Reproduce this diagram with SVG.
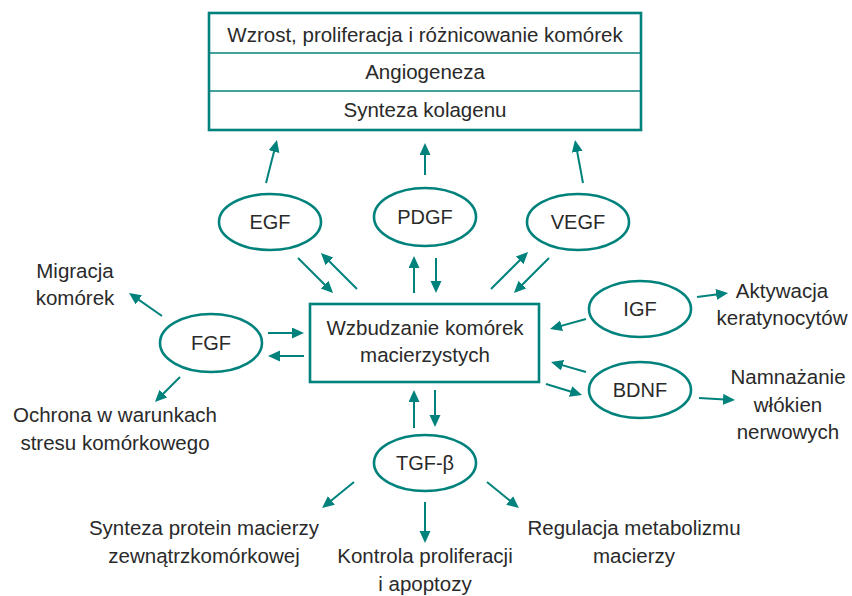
<svg xmlns="http://www.w3.org/2000/svg" width="852" height="596" viewBox="0 0 852 596">
<defs>
<style>
.t{font-family:"Liberation Sans",Arial,sans-serif;font-size:20.5px;fill:#2a2a2a;text-anchor:middle}
.n{font-family:"Liberation Sans",Arial,sans-serif;font-size:20px;fill:#2a2a2a;text-anchor:middle}
.el{fill:#fff;stroke:#00827c;stroke-width:2.6}
.bx{fill:#fff;stroke:#00827c;stroke-width:2.6}
.dv{stroke:#00827c;stroke-width:1.5}
.ar{stroke:#00827c;stroke-width:2;fill:none;marker-end:url(#ah)}
</style>
<marker id="ah" markerUnits="userSpaceOnUse" markerWidth="13" markerHeight="12" refX="6" refY="5.5" orient="auto">
<path d="M0,0 L12,5.5 L0,11 z" fill="#00827c"/>
</marker>
</defs>
<rect width="852" height="596" fill="#fff"/>

<g id="outcomes">
<rect class="bx" x="209" y="13" width="432" height="117"/>
<line class="dv" x1="209" y1="53" x2="641" y2="53"/>
<line class="dv" x1="209" y1="91" x2="641" y2="91"/>
<text class="t" x="425" y="42">Wzrost, proliferacja i różnicowanie komórek</text>
<text class="t" x="425" y="79">Angiogeneza</text>
<text class="t" x="425" y="117">Synteza kolagenu</text>
</g>

<g id="stem">
<rect class="bx" x="310" y="304" width="229" height="78"/>
<text class="t" x="425" y="335">Wzbudzanie komórek</text>
<text class="t" x="425" y="362">macierzystych</text>
</g>

<g id="egf"><ellipse class="el" cx="270" cy="222" rx="51" ry="28"/><text class="n" x="270" y="229">EGF</text></g>
<g id="pdgf"><ellipse class="el" cx="425" cy="217" rx="51" ry="29"/><text class="n" x="425" y="224">PDGF</text></g>
<g id="vegf"><ellipse class="el" cx="578" cy="222" rx="51" ry="28"/><text class="n" x="578" y="229">VEGF</text></g>
<g id="fgf"><ellipse class="el" cx="211" cy="343" rx="51" ry="29"/><text class="n" x="211" y="350">FGF</text></g>
<g id="igf"><ellipse class="el" cx="640" cy="309" rx="51" ry="28"/><text class="n" x="640" y="316">IGF</text></g>
<g id="bdnf"><ellipse class="el" cx="640" cy="390" rx="51" ry="28"/><text class="n" x="640" y="397">BDNF</text></g>
<g id="tgfb"><ellipse class="el" cx="425" cy="463" rx="51" ry="28"/><text class="n" x="425" y="470">TGF-β</text></g>

<g id="labels">
<text class="t" x="75" y="278">Migracja</text>
<text class="t" x="75" y="305">komórek</text>
<text class="t" x="115" y="422">Ochrona w warunkach</text>
<text class="t" x="115" y="450">stresu komórkowego</text>
<text class="t" x="204" y="535">Synteza protein macierzy</text>
<text class="t" x="204" y="563">zewnątrzkomórkowej</text>
<text class="t" x="425" y="563">Kontrola proliferacji</text>
<text class="t" x="425" y="591">i apoptozy</text>
<text class="t" x="634" y="535">Regulacja metabolizmu</text>
<text class="t" x="634" y="563">macierzy</text>
<text class="t" x="782" y="298">Aktywacja</text>
<text class="t" x="782" y="325">keratynocytów</text>
<text class="t" x="788" y="384">Namnażanie</text>
<text class="t" x="788" y="412">włókien</text>
<text class="t" x="788" y="439">nerwowych</text>
</g>

<g id="connectors">
<line class="ar" x1="266" y1="183" x2="275.5" y2="145.8"/>
<line class="ar" x1="425" y1="175" x2="425" y2="149"/>
<line class="ar" x1="583" y1="183" x2="576.1" y2="145.9"/>
<line class="ar" x1="298" y1="258" x2="328.8" y2="288.8"/>
<line class="ar" x1="357" y1="289" x2="325.2" y2="257.2"/>
<line class="ar" x1="414" y1="293" x2="414" y2="262"/>
<line class="ar" x1="436" y1="258" x2="436" y2="287"/>
<line class="ar" x1="491" y1="289" x2="523.8" y2="256.2"/>
<line class="ar" x1="549" y1="258" x2="518.2" y2="288.8"/>
<line class="ar" x1="268" y1="333" x2="298" y2="333"/>
<line class="ar" x1="304" y1="356" x2="274" y2="356"/>
<line class="ar" x1="162" y1="316" x2="133.9" y2="296.4"/>
<line class="ar" x1="180" y1="377" x2="159.2" y2="397.8"/>
<line class="ar" x1="586" y1="319" x2="555.8" y2="327.4"/>
<line class="ar" x1="697" y1="297" x2="722.1" y2="293.8"/>
<line class="ar" x1="586" y1="372" x2="556.8" y2="363.6"/>
<line class="ar" x1="546" y1="384" x2="576.3" y2="393.2"/>
<line class="ar" x1="699" y1="398" x2="729" y2="399.7"/>
<line class="ar" x1="414" y1="428" x2="414" y2="396"/>
<line class="ar" x1="435" y1="390" x2="435" y2="421"/>
<line class="ar" x1="354" y1="482" x2="326.7" y2="504.2"/>
<line class="ar" x1="425" y1="502" x2="425" y2="537"/>
<line class="ar" x1="487" y1="482" x2="514.3" y2="504.2"/>
</g>
</svg>
